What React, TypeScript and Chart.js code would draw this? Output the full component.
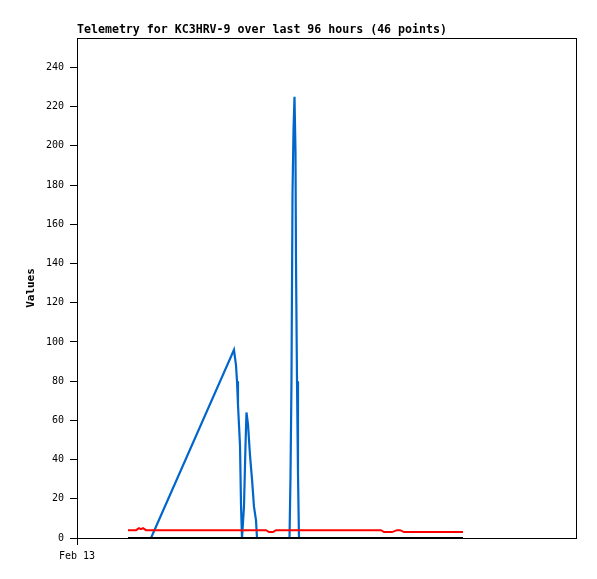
import React, { useEffect, useRef } from "react";
import { Chart, registerables } from "chart.js";

Chart.register(...registerables);

const chartTitle = "Telemetry for KC3HRV-9 over last 96 hours (46 points)";
const yAxisTitle = "Values";
const xTickLabel = "Feb 13";

// hours since Feb 13 00:00
const hours = [
  9.79, 11.33, 11.9, 12.29, 12.67, 13.25, 14.21, 30.14, 30.53, 30.72,
  30.91, 31.3, 31.49, 31.68, 32.06, 32.35, 32.54, 32.83, 33.22, 33.6,
  33.98, 34.37, 34.56, 36.29, 36.86, 37.63, 38.21, 40.8, 40.99, 41.18,
  41.38, 41.57, 41.76, 41.95, 42.05, 42.24, 42.43, 42.62, 58.37, 58.94,
  60.48, 61.44, 62.02, 62.78, 67.78, 74.11,
];

const blueValues = [
  0, 0, 0, 0, 0, 0, 0, 96, 88, 80,
  68, 47, 17, 0, 16, 47, 64, 58, 42, 30,
  16, 9, 0, 0, 0, 0, 0, 0, 31, 80,
  176, 208, 225, 197, 140, 80, 33, 0, 0, 0,
  0, 0, 0, 0, 0, 0,
];

const redValues = [
  4, 4, 5, 4.5, 5, 4, 4, 4, 4, 4,
  4, 4, 4, 3.6, 4, 4, 4, 4, 4, 4,
  4, 4, 4, 4, 3, 3, 4, 4, 4, 4,
  4, 4, 4, 4, 4, 4, 4, 4, 4, 3,
  3, 4, 4, 3, 3, 3,
];

const blackValues = hours.map(() => 0);

const yTicks = [0, 20, 40, 60, 80, 100, 120, 140, 160, 180, 200, 220, 240];

const mono = "'DejaVu Sans Mono', monospace";

export default function App() {
  const ref = useRef<HTMLCanvasElement>(null);

  useEffect(() => {
    if (!ref.current) return;
    const pts = (vals: number[]) => hours.map((h, i) => ({ x: h, y: vals[i] }));

    const overlay = {
      id: "overlay",
      afterDraw(chart: any) {
        const { ctx, chartArea } = chart;
        ctx.save();
        ctx.strokeStyle = "#000";
        ctx.lineWidth = 1;
        ctx.strokeRect(
          Math.round(chartArea.left) + 0.5,
          Math.round(chartArea.top) + 0.5,
          Math.round(chartArea.right - chartArea.left) - 1,
          Math.round(chartArea.bottom - chartArea.top)
        );
        ctx.fillStyle = "#000";
        ctx.font = `bold 11.6px ${mono}`;
        ctx.textBaseline = "middle";
        ctx.textAlign = "left";
        ctx.fillText(chartTitle, chartArea.left, 30);
        ctx.restore();
      },
    };

    const chart = new Chart(ref.current, {
      type: "line",
      data: {
        datasets: [
          {
            data: pts(blackValues),
            borderColor: "#000000",
            borderWidth: 2,
            pointRadius: 0,
            order: 0,
          },
          {
            data: pts(redValues),
            borderColor: "#ff0000",
            borderWidth: 2,
            pointRadius: 0,
            order: 1,
          },
          {
            data: pts(blueValues),
            borderColor: "#0066cc",
            borderWidth: 2.2,
            pointRadius: 0,
            order: 2,
          },
        ],
      },
      options: {
        animation: false,
        responsive: false,
        layout: { padding: { top: 38, right: 20, left: 0, bottom: 0 } },
        plugins: {
          legend: { display: false },
          tooltip: { enabled: false },
          title: { display: false },
        },
        scales: {
          x: {
            type: "linear",
            min: 0,
            max: 96,
            border: { display: false },
            grid: {
              drawOnChartArea: false,
              drawTicks: true,
              tickLength: 7,
              color: "#000",
            },
            ticks: {
              font: { family: mono, size: 10 },
              color: "#000",
              padding: 5,
              maxRotation: 0,
              callback: () => xTickLabel,
            },
            afterBuildTicks: (scale: any) => {
              scale.ticks = [{ value: 0 }];
            },
            afterFit: (scale: any) => {
              scale.height = 41;
            },
          },
          y: {
            type: "linear",
            min: 0,
            max: 255,
            border: { display: false },
            grid: {
              drawOnChartArea: false,
              drawTicks: true,
              tickLength: 7,
              color: "#000",
            },
            ticks: {
              font: { family: mono, size: 10 },
              color: "#000",
              padding: 6,
            },
            afterBuildTicks: (scale: any) => {
              scale.ticks = yTicks.map((v) => ({ value: v }));
            },
            afterFit: (scale: any) => {
              scale.width = 77;
            },
            title: {
              display: true,
              text: yAxisTitle,
              color: "#000",
              font: { family: mono, size: 11, weight: "bold" },
              padding: { top: 25, bottom: 0 },
            },
          },
        },
      },
      plugins: [overlay],
    });
    return () => chart.destroy();
  }, []);

  return (
    <div style={{ position: "fixed", left: 0, top: 0, width: 597, height: 579, background: "#fff" }}>
      <canvas ref={ref} width={597} height={579} />
    </div>
  );
}
